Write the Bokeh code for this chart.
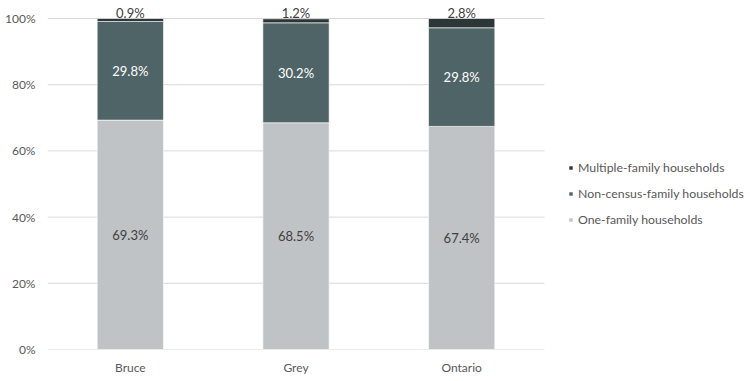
from bokeh.plotting import figure
from bokeh.models import (ColumnDataSource, Range1d, FixedTicker,
                          PrintfTickFormatter, LabelSet, Legend, LegendItem)
from bokeh.core.properties import value
from bokeh.embed import file_html
from bokeh.resources import INLINE

regions = ["Bruce", "Grey", "Ontario"]
one_family = [69.3, 68.5, 67.4]
non_census = [29.8, 30.2, 29.8]
multiple = [0.9, 1.2, 2.8]
series_names = ["One-family households", "Non-census-family households", "Multiple-family households"]
colors = ["#bfc3c5", "#4f6466", "#2c3637"]
y_ticks = [0, 20, 40, 60, 80, 100]

FONT = "Lato"
TXT = "#595959"

n = len(regions)
xpos = [i + 0.5 for i in range(n)]

# frame spans the whole right side so the legend stays inside it
p = figure(width=750, height=381, x_range=Range1d(0, n * 703 / 497), y_range=Range1d(0, 100 * 346 / 331),
           output_backend="svg", toolbar_location=None,
           min_border_left=47, min_border_right=0, min_border_top=3, min_border_bottom=32)
p.outline_line_color = None
p.background_fill_color = "white"
p.border_fill_color = "white"
p.xgrid.grid_line_color = None
p.ygrid.grid_line_color = None

# horizontal gridlines over the category area only
p.segment(x0=[0] * len(y_ticks), x1=[n] * len(y_ticks), y0=y_ticks, y1=y_ticks,
          line_color="#d9d9d9", line_width=1)

src = ColumnDataSource(dict(x=xpos, one=one_family, non=non_census, mul=multiple))
rs = p.vbar_stack(["one", "non", "mul"], x="x", width=0.4, source=src,
                  color=colors, line_color="white", line_width=0.6)

lab_one = ColumnDataSource(dict(x=xpos, y=[v / 2 for v in one_family],
                                t=[f"{v:.1f}%" for v in one_family]))
lab_non = ColumnDataSource(dict(x=xpos, y=[a + b / 2 for a, b in zip(one_family, non_census)],
                                t=[f"{v:.1f}%" for v in non_census]))
lab_mul = ColumnDataSource(dict(x=xpos, y=[a + b + c for a, b, c in zip(one_family, non_census, multiple)],
                                t=[f"{v:.1f}%" for v in multiple]))
for s, col, base, off in [(lab_one, "#404040", "middle", 0), (lab_non, "white", "middle", 0),
                          (lab_mul, "#404040", "bottom", -2)]:
    p.add_layout(LabelSet(x="x", y="y", text="t", source=s, text_align="center",
                          text_baseline=base, text_color=col, text_font=value(FONT),
                          text_font_size="13px", y_offset=off))

p.yaxis.ticker = FixedTicker(ticks=y_ticks)
p.yaxis.formatter = PrintfTickFormatter(format="%d%%")
p.xaxis.ticker = FixedTicker(ticks=xpos)
p.xaxis.major_label_overrides = {x: r for x, r in zip(xpos, regions)}
for ax in (p.xaxis, p.yaxis):
    ax.axis_line_color = None
    ax.major_tick_line_color = None
    ax.minor_tick_line_color = None
    ax.major_tick_out = 0
    ax.major_tick_in = 0
    ax.major_label_text_font = FONT
    ax.major_label_text_font_size = "12px"
    ax.major_label_text_color = TXT
p.yaxis.major_label_standoff = 12
p.xaxis.major_label_standoff = 10

items = [LegendItem(label=series_names[i], renderers=[rs[i]]) for i in (2, 1, 0)]
legend = Legend(items=items, location=(521, 120), orientation="vertical",
                glyph_width=5, glyph_height=5, label_height=20, spacing=6,
                padding=0, margin=0, label_standoff=5,
                label_text_font=FONT, label_text_font_size="12.3px", label_text_color=TXT,
                border_line_color=None, background_fill_alpha=0)
p.add_layout(legend, "center")

open("out.html", "w").write(file_html(p, INLINE))
